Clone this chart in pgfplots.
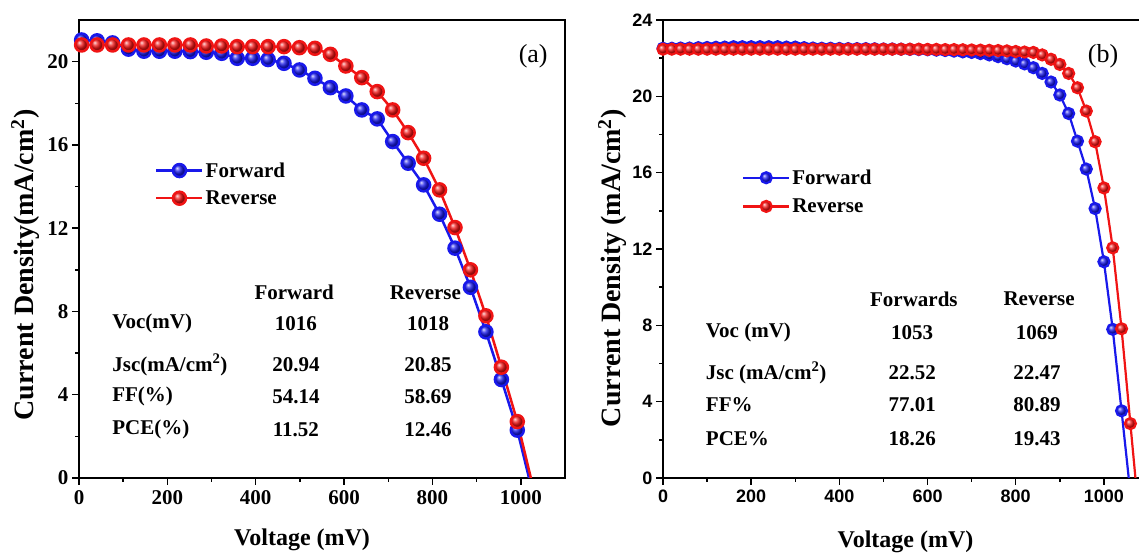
\documentclass[border=0pt]{standalone}
\usepackage{fontspec}
\setmainfont{Liberation Serif}
\newfontfamily\arialf{Liberation Sans}
\usepackage{pgfplots}
\pgfplotsset{compat=1.18}
\definecolor{fwd}{RGB}{25,25,235}
\definecolor{rev}{RGB}{240,20,20}
\newcommand{\fs}[1]{\fontsize{#1}{#1}\selectfont}

\pgfplotsset{
  jv/.style={
    scale only axis,
    axis line style={line width=1.6pt},
    every tick/.style={line width=1.4pt, black},
    tick align=outside,
    xtick pos=bottom, ytick pos=left,
    major tick length=7pt, minor tick length=4pt,
    minor x tick num=1, minor y tick num=1,
    /pgf/number format/assume math mode=true,
    /pgf/number format/1000 sep={},
    clip=true,
    legend cell align=left,
    legend image code/.code={\draw[mark repeat=2,mark phase=2,##1] plot coordinates {(0pt,0pt) (23pt,0pt) (46pt,0pt)};},
  },
}

\begin{document}
\begin{tikzpicture}
\path[use as bounding box] (0,0) rectangle (1139pt,556pt);

% ---------------- panel (a) ----------------
\begin{axis}[jv,
  at={(79pt,78pt)}, anchor=south west,
  width=486pt, height=458pt,
  xmin=0, xmax=1100, ymin=0, ymax=22,
  xtick={0,200,...,1000}, ytick={0,4,...,20},
  xticklabel={\mbox{\fs{21}\bfseries\pgfmathprintnumber{\tick}}},
  yticklabel={\mbox{\fs{21}\bfseries\pgfmathprintnumber{\tick}}},
  xticklabel shift=2pt,
  xlabel={\textbf{Voltage (mV)}},
  ylabel={\textbf{Current Density(mA/cm\textsuperscript{2})}},
  xlabel style={font=\fs{24}, at={(axis description cs:0.459,-0.135)}, anchor=center},
  ylabel style={font=\fs{28}, at={(axis description cs:-0.111,0.465)}, anchor=center},
  legend style={at={(axis cs:172,15.26)}, anchor=north west, draw=none, fill=none,
    inner sep=0pt, font=\fs{21}\bfseries, row sep=8pt, nodes={inner sep=2pt}},
]
\addplot[color=fwd, line width=2.5pt, mark=ball, mark size=6.5pt, mark options={ball color=fwd}] coordinates {
(6,21.04) (41,21.0) (76,20.9) (112,20.6) (147,20.5) (182,20.5) (217,20.5) (252,20.48)
(288,20.45) (323,20.4) (358,20.16) (393,20.16) (428,20.1) (464,19.92) (499,19.6) (534,19.2)
(569,18.75) (604,18.35) (640,17.68) (675,17.25) (710,16.16) (745,15.12) (780,14.08) (816,12.67)
(851,11.04) (886,9.16) (921,7.02) (956,4.73) (992,2.3) (1022,-0.3)};
\addlegendentry{Forward}
\addplot[color=rev, line width=2.5pt, mark=ball, mark size=6.5pt, mark options={ball color=rev}] coordinates {
(6,20.8) (41,20.8) (76,20.8) (112,20.8) (147,20.8) (182,20.8) (217,20.8) (252,20.8)
(288,20.75) (323,20.75) (358,20.72) (393,20.72) (428,20.72) (464,20.72) (499,20.67) (534,20.64)
(569,20.35) (604,19.79) (640,19.23) (675,18.56) (710,17.68) (745,16.59) (780,15.36) (816,13.84)
(851,12.03) (886,10.0) (921,7.79) (956,5.32) (992,2.71) (1025,-0.2)};
\addlegendentry{Reverse}
\node[font=\fs{26}] at (axis cs:1028,20.24) {(a)};
\begin{scope}[every node/.style={font=\fs{21}\bfseries, inner sep=0pt}]
\node at (axis cs:487,8.9) {Forward};
\node at (axis cs:784,8.9) {Reverse};
\node[anchor=west] at (axis cs:75,7.42) {Voc(mV)};
\node[anchor=west] at (axis cs:75,5.44) {Jsc(mA/cm\textsuperscript{2})};
\node[anchor=west] at (axis cs:75,3.9) {FF(\%)};
\node[anchor=west] at (axis cs:75,2.33) {PCE(\%)};
\node at (axis cs:491,7.42) {1016};
\node at (axis cs:790,7.42) {1018};
\node at (axis cs:491,5.44) {20.94};
\node at (axis cs:790,5.44) {20.85};
\node at (axis cs:491,3.9) {54.14};
\node at (axis cs:790,3.9) {58.69};
\node at (axis cs:491,2.33) {11.52};
\node at (axis cs:790,2.33) {12.46};
\end{scope}
\end{axis}

% ---------------- panel (b) ----------------
\begin{axis}[jv,
  at={(663pt,78pt)}, anchor=south west,
  width=485pt, height=458pt,
  xmin=0, xmax=1100, ymin=0, ymax=24,
  xtick={0,200,...,1000}, ytick={0,4,...,24},
  xticklabel={\mbox{\arialf\fs{18}\bfseries\pgfmathprintnumber{\tick}}},
  yticklabel={\mbox{\arialf\fs{18}\bfseries\pgfmathprintnumber{\tick}}},
  xticklabel shift=1pt,
  xlabel={\textbf{Voltage (mV)}},
  ylabel={\textbf{Current Density (mA/cm\textsuperscript{2})}},
  xlabel style={font=\fs{24}, at={(axis description cs:0.5,-0.139)}, anchor=center},
  ylabel style={font=\fs{28}, at={(axis description cs:-0.105,0.458)}, anchor=center},
  legend style={at={(axis cs:179,16.27)}, anchor=north west, draw=none, fill=none,
    inner sep=0pt, font=\fs{21}\bfseries, row sep=9pt, nodes={inner sep=2pt}},
]
\addplot[color=fwd, line width=2.2pt, mark=ball, mark size=5.5pt, mark options={ball color=fwd}] coordinates {
(0,22.52) (20,22.52) (40,22.53) (60,22.53) (80,22.55) (100,22.56) (120,22.57) (140,22.58)
(160,22.6) (180,22.6) (200,22.6) (220,22.6) (240,22.6) (260,22.6) (280,22.58) (300,22.58)
(320,22.55) (340,22.53) (360,22.52) (380,22.52) (400,22.51) (420,22.5) (440,22.5) (460,22.5)
(480,22.49) (500,22.48) (520,22.48) (540,22.47) (560,22.46) (580,22.45) (600,22.44) (620,22.42)
(640,22.4) (660,22.37) (680,22.33) (700,22.3) (720,22.24) (740,22.17) (760,22.08) (780,21.97)
(800,21.85) (820,21.7) (840,21.5) (860,21.2) (880,20.75) (900,20.07) (920,19.1) (940,17.65)
(960,16.19) (980,14.12) (1000,11.33) (1020,7.79) (1040,3.52) (1060,-0.8)};
\addlegendentry{Forward}
\addplot[color=rev, line width=2.2pt, mark=ball, mark size=5.5pt, mark options={ball color=rev}] coordinates {
(0,22.47) (20,22.47) (40,22.47) (60,22.47) (80,22.47) (100,22.47) (120,22.47) (140,22.47)
(160,22.47) (180,22.47) (200,22.47) (220,22.47) (240,22.47) (260,22.47) (280,22.47) (300,22.47)
(320,22.47) (340,22.47) (360,22.47) (380,22.47) (400,22.47) (420,22.47) (440,22.47) (460,22.47)
(480,22.47) (500,22.47) (520,22.47) (540,22.47) (560,22.47) (580,22.47) (600,22.46) (620,22.46)
(640,22.45) (660,22.45) (680,22.44) (700,22.43) (720,22.42) (740,22.41) (760,22.4) (780,22.38)
(800,22.35) (820,22.32) (840,22.3) (860,22.17) (880,21.94) (900,21.67) (920,21.2) (940,20.45)
(960,19.23) (980,17.62) (1000,15.2) (1020,12.06) (1040,7.82) (1060,2.85) (1080,-2.1)};
\addlegendentry{Reverse}
\node[font=\fs{26}] at (axis cs:998,22.1) {(b)};
\begin{scope}[every node/.style={font=\fs{21}\bfseries, inner sep=0pt}]
\node at (axis cs:569,9.37) {Forwards};
\node at (axis cs:853,9.37) {Reverse};
\node[anchor=west] at (axis cs:97,7.61) {Voc (mV)};
\node[anchor=west] at (axis cs:97,5.5) {Jsc (mA/cm\textsuperscript{2})};
\node[anchor=west] at (axis cs:97,3.82) {FF\%};
\node[anchor=west] at (axis cs:97,2.06) {PCE\%};
\node at (axis cs:565,7.61) {1053};
\node at (axis cs:848,7.61) {1069};
\node at (axis cs:565,5.5) {22.52};
\node at (axis cs:848,5.5) {22.47};
\node at (axis cs:565,3.82) {77.01};
\node at (axis cs:848,3.82) {80.89};
\node at (axis cs:565,2.06) {18.26};
\node at (axis cs:848,2.06) {19.43};
\end{scope}
\end{axis}
\end{tikzpicture}
\end{document}
